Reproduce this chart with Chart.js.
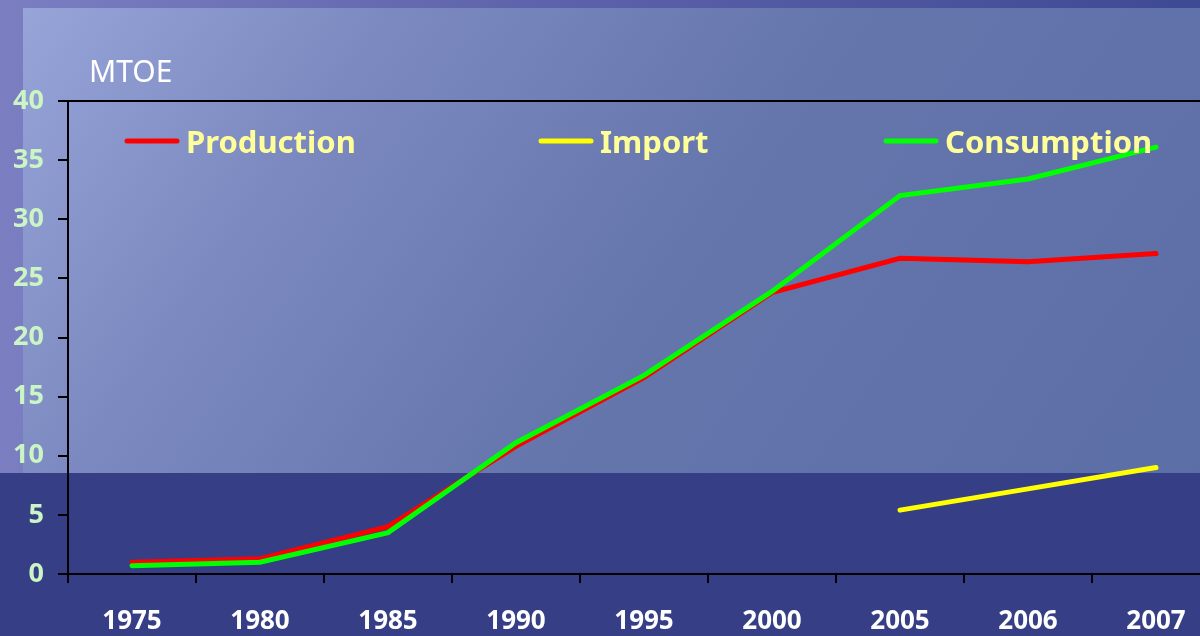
<!DOCTYPE html>
<html>
<head>
<meta charset="utf-8">
<script src="https://cdn.jsdelivr.net/npm/chart.js@4"></script>
<style>
  html, body { margin: 0; padding: 0; }
  body { width: 1200px; height: 636px; overflow: hidden; position: relative;
    background: linear-gradient(to right, #7c7ec2 0%, #5d63aa 45%, #3e4994 100%); }
  #panel { position: absolute; left: 23px; top: 8px; width: 1177px; height: 465px;
    background: linear-gradient(125deg, #97a4d8 0%, #7b89c0 25%, #6576ad 55%, #5c6ea6 100%); }
  #band { position: absolute; left: 0; top: 473px; width: 1200px; height: 163px; background: #363f86; }
  #wrap { position: absolute; left: 0; top: 0; width: 1200px; height: 636px; overflow: hidden; }
  canvas { display: block; }
</style>
</head>
<body>
<div id="panel"></div>
<div id="band"></div>
<div id="wrap"><canvas id="myChart" width="1240" height="636"></canvas></div>
<script>
const years = ['1975', '1980', '1985', '1990', '1995', '2000', '2005', '2006', '2007'];
const production = [1.0, 1.3, 4.0, 10.8, 16.6, 23.8, 26.7, 26.4, 27.1];
const imports = [null, null, null, null, null, null, 5.4, 7.2, 9.0];
const consumption = [0.7, 1.0, 3.5, 11.1, 16.8, 23.9, 32.0, 33.4, 36.1];
const yTicks = [0, 5, 10, 15, 20, 25, 30, 35, 40];

const ctx = document.getElementById('myChart');

// legend drawn inside the plot, plus the unit label and the top frame line
const slideLegend = {
  id: 'slideLegend',
  afterDraw(chart, args, opts) {
    const c = chart.ctx;
    const area = chart.chartArea;
    c.save();
    c.strokeStyle = '#000';
    c.lineWidth = 2;
    c.beginPath();
    c.moveTo(area.left, area.top);
    c.lineTo(area.right, area.top);
    c.stroke();

    c.fillStyle = '#ffffff';
    c.font = '30px "Noto Sans"';
    c.textBaseline = 'alphabetic';
    c.fillText('MTOE', 89, 82);

    c.font = 'bold 31px "Noto Sans"';
    chart.data.datasets.forEach((ds, i) => {
      const x = opts.starts[i];
      c.strokeStyle = ds.borderColor;
      c.lineWidth = 5;
      c.lineCap = 'round';
      c.beginPath();
      c.moveTo(x, 141);
      c.lineTo(x + 50, 141);
      c.stroke();
      c.fillStyle = '#ffff99';
      c.fillText(ds.label, x + 59, 153);
    });
    c.restore();
  },
};

new Chart(ctx, {
  type: 'line',
  data: {
    labels: years,
    datasets: [
      { label: 'Production', data: production, borderColor: '#ff0000', order: 1 },
      { label: 'Import', data: imports, borderColor: '#ffff00', order: 2 },
      { label: 'Consumption', data: consumption, borderColor: '#00ff00', order: 0 },
    ],
  },
  options: {
    responsive: false,
    animation: false,
    devicePixelRatio: 1,
    layout: { padding: { top: 101, right: 20, left: 0, bottom: 0 } },
    elements: {
      line: { borderWidth: 5, tension: 0, borderCapStyle: 'round', borderJoinStyle: 'miter' },
      point: { radius: 0 },
    },
    scales: {
      x: {
        offset: true,
        grid: { offset: true, drawOnChartArea: false, tickLength: 9, color: '#000', lineWidth: 2 },
        border: { color: '#000', width: 2 },
        ticks: { color: '#ffffff', padding: 23, maxRotation: 0, font: { family: 'Noto Sans', size: 26, weight: 'bold' } },
        afterFit: (scale) => { scale.height = 62; },
      },
      y: {
        min: 0,
        max: 40,
        afterBuildTicks: (scale) => { scale.ticks = yTicks.map((v) => ({ value: v })); },
        grid: { drawOnChartArea: false, tickLength: 10, color: '#000', lineWidth: 2 },
        border: { color: '#000', width: 2 },
        ticks: { color: '#ccf5c6', padding: 14, font: { family: 'Noto Sans', size: 27, weight: 'bold' } },
        afterFit: (scale) => { scale.width = 68; },
      },
    },
    plugins: {
      legend: { display: false },
      tooltip: { enabled: false },
      slideLegend: { starts: [127, 541, 886] },
    },
  },
  plugins: [slideLegend],
});
</script>
</body>
</html>
